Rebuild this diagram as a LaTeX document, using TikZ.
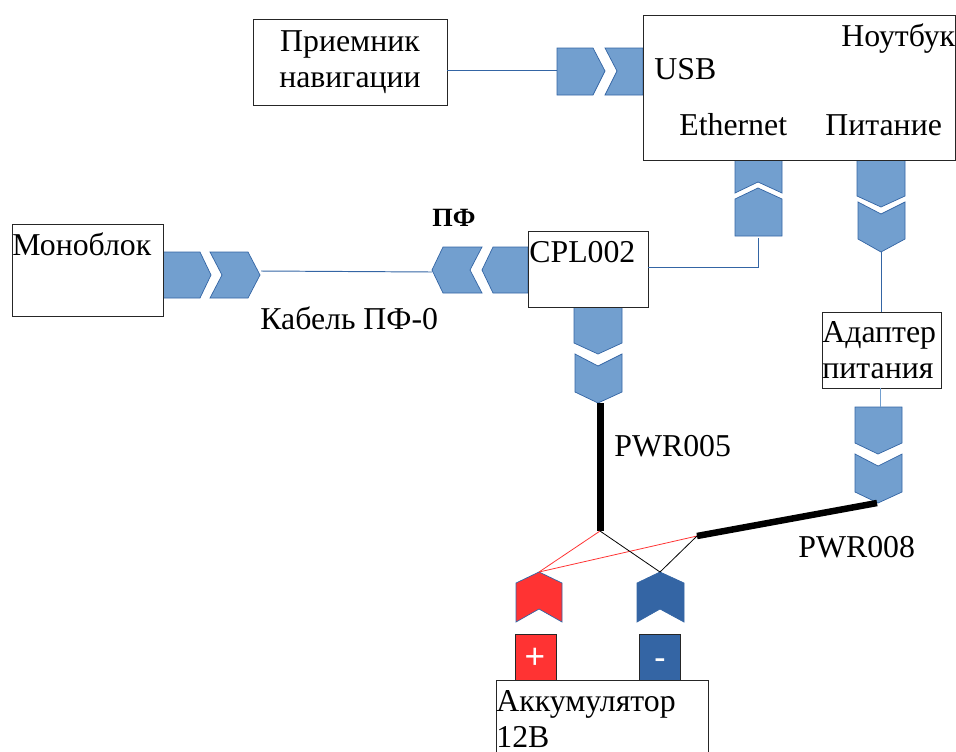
\documentclass[tikz,border=0pt]{standalone}
\usepackage{fontspec}
\setmainfont{Liberation Serif}
\setsansfont{Liberation Sans}
\definecolor{plugblue}{HTML}{729FCF}
\definecolor{wireblue}{HTML}{3465A4}
\definecolor{termred}{HTML}{FF3333}
\tikzset{
    box/.style={draw=black!85,line width=.45pt,fill=white,inner sep=0pt},
    lbl/.style={inner sep=0pt,font=\fontsize{18.1}{20.5}\selectfont},
    plug/.style={fill=plugblue,draw=wireblue,line width=.4pt},
    wire/.style={wireblue,line width=.55pt},
    cable/.style={black,line width=.14cm},
    lead/.style={line width=.45pt},
    term/.style={box,minimum width=.82cm,minimum height=.92cm,text=white,font=\sffamily\fontsize{20}{20}\selectfont},
}
\begin{document}
\begin{tikzpicture}[x=.02cm,y=-.02cm]
        \clip (0,0) rectangle (956,751);
        % free ends of the wires
        \coordinate (usbin) at (557,70);
        \coordinate (ethout) at (758,238);
        \coordinate (ethbend) at (758,267);
        \coordinate (pwrout) at (881,252);
        \coordinate (monotip) at (261,271);
        \coordinate (pftip) at (432,272);
        \coordinate (adin) at (880,407);
        \coordinate (cpltip) at (600,403);
        \coordinate (adtip) at (877,503);
        \coordinate (joinl) at (600,531);
        \coordinate (joinr) at (697,536);
        \coordinate (redtip) at (539,572);
        \coordinate (bluetip) at (660,572);
        % USB pair
        \draw [plug] (557,48) -- (593,48) -- (605,71) -- (593,95) -- (557,95) -- cycle;
        \draw [plug] (605,48) -- (643,48) -- (643,95) -- (605,95) -- (617,71) -- cycle;
        % monoblock pair
        \draw [plug] (163,252) -- (200,252) -- (211,275) -- (200,298) -- (163,298) -- cycle;
        \draw [plug] (210,252) -- (248,252) -- (260,275) -- (248,298) -- (210,298) -- (222,275) -- cycle;
        % PF pair
        \draw [plug] (482,247) -- (443,247) -- (432,270) -- (443,293) -- (482,293) -- (470,270) -- cycle;
        \draw [plug] (528,247) -- (493,247) -- (482,270) -- (493,293) -- (528,293) -- cycle;
        % Ethernet pair
        \draw [plug] (735,160) -- (782,160) -- (782,193) -- (758,182) -- (735,193) -- cycle;
        \draw [plug] (735,199) -- (758,188) -- (782,199) -- (782,236) -- (735,236) -- cycle;
        % power pair of the notebook
        \draw [plug] (857,160) -- (905,160) -- (905,196) -- (881,207) -- (857,196) -- cycle;
        \draw [plug] (858,202) -- (881,214) -- (905,202) -- (905,239) -- (881,252) -- (858,239) -- cycle;
        % CPL pair
        \draw [plug] (574,307) -- (622,307) -- (622,343) -- (598,354) -- (574,343) -- cycle;
        \draw [plug] (575,354) -- (598,366) -- (622,354) -- (622,392) -- (598,403) -- (575,392) -- cycle;
        % adapter pair
        \draw [plug] (855,407) -- (902,407) -- (902,443) -- (878,454) -- (855,443) -- cycle;
        \draw [plug] (855,454) -- (878,466) -- (902,454) -- (902,492) -- (878,503) -- (855,492) -- cycle;
        % battery plugs
        \draw [plug,fill=termred] (516,583) -- (539,572) -- (562,583) -- (562,622) -- (539,609) -- (516,622) -- cycle;
        \draw [plug,fill=wireblue,draw=wireblue] (637,583) -- (660,572) -- (684,583) -- (684,622) -- (660,609) -- (637,622) -- cycle;
        % boxes
        \node [box,minimum width=3.88cm,minimum height=1.72cm] (priemnik) at (350,62) {};
        \node [box,minimum width=6.24cm,minimum height=2.9cm] (noutbuk) at (799,87.5) {};
        \node [box,minimum width=3.02cm,minimum height=1.84cm] (monoblok) at (87.5,270) {};
        \node [box,minimum width=2.4cm,minimum height=1.52cm] (cpl) at (588,269) {};
        \node [box,minimum width=2.38cm,minimum height=1.52cm] (adapter) at (881.5,350) {};
        \node [term,fill=termred] (plus) at (535.5,657) {};
        \node [term,fill=wireblue] (minus) at (659.5,657) {};
        \node [term,draw=none,fill=none] (plustext) at (535,658) {+};
        \node [term,draw=none,fill=none] (minustext) at (660,664) {-};
        \node [box,minimum width=4.24cm,minimum height=2cm] (akk) at (602,730) {};
        % labels
        \foreach \n/\x/\y/\t in {notetext/841/46/Ноутбук,usbtext/654/79/USB,ethtext/679/135/Ethernet,pittext/825/135/Питание,
                monotext/12/255/Моноблок,cpltext/529/262/CPL002,kabtext/260/329/Кабель ПФ-0,pwrfive/614/456/PWR005,pwreight/798/557/PWR008}{
            \node [lbl,anchor=base west] (\n) at (\x,\y) {\t};
        }
        \node [lbl,anchor=base west,font=\bfseries\fontsize{15}{17}\selectfont] (pftext) at (432,226) {ПФ};
        \node [lbl,align=center] (priemtext) at (350,62) {Приемник\\навигации};
        \node [lbl,align=left,anchor=west] (adtext) at (822,350) {Адаптер\\питания};
        \node [lbl,align=left,anchor=north west] (akktext) at (496,690) {Аккумулятор\\12В};
        % wires
        \draw [wire] (priemnik.east |- usbin) -- (usbin);
        \draw [wire] (cpl.east |- ethbend) -- (ethbend) -- (ethout);
        \draw [wire] (monotip) -- (pftip);
        \draw [wire] (pwrout) -- (adapter.north -| pwrout);
        \draw [wire,plugblue] (adapter.south -| adin) -- (adin);
        % cables to the battery
        \draw [cable] (cpltip) -- (joinl);
        \draw [cable,line width=.13cm] (joinr) -- (adtip);
        \draw [lead,termred] (joinl) -- (redtip);
        \draw [lead,termred] (joinr) -- (redtip);
        \draw [lead] (joinl) -- (bluetip);
        \draw [lead] (joinr) -- (bluetip);
\end{tikzpicture}
\end{document}
